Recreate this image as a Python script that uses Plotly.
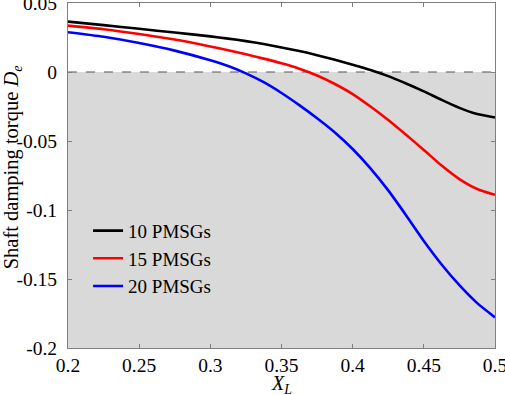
import plotly.graph_objects as go

x_vals = [0.2, 0.225, 0.25, 0.275, 0.3, 0.3125, 0.325, 0.3375, 0.35, 0.3625, 0.375, 0.3875,
          0.4, 0.4125, 0.425, 0.4375, 0.45, 0.4625, 0.475, 0.4875, 0.5]
pmsg10 = [0.0365, 0.0340, 0.0313, 0.0286, 0.0258, 0.0242, 0.0224, 0.0203, 0.0178, 0.0152, 0.0122, 0.0089,
          0.0053, 0.0015, -0.0030, -0.0083, -0.0140, -0.0202, -0.0260, -0.0305, -0.0330]
pmsg15 = [0.0336, 0.0310, 0.0275, 0.0235, 0.0185, 0.0158, 0.0128, 0.0097, 0.0063, 0.0024, -0.0025, -0.0087,
          -0.0160, -0.0250, -0.0348, -0.0455, -0.0565, -0.0678, -0.0776, -0.0848, -0.0890]
pmsg20 = [0.0288, 0.0255, 0.0210, 0.0155, 0.0085, 0.0043, -0.0010, -0.0074, -0.0152, -0.0240, -0.0335, -0.0438,
          -0.0558, -0.0698, -0.0858, -0.1038, -0.1225, -0.1395, -0.1545, -0.1675, -0.1778]
series_names = ["10 PMSGs", "15 PMSGs", "20 PMSGs"]
series_colors = ["#000000", "#ff0000", "#0000ff"]
x_ticks = [0.2, 0.25, 0.3, 0.35, 0.4, 0.45, 0.5]
y_ticks = [0.05, 0, -0.05, -0.1, -0.15, -0.2]

FONT = "Liberation Serif"

fig = go.Figure()
for name, ys, c in zip(series_names, [pmsg10, pmsg15, pmsg20], series_colors):
    fig.add_trace(go.Scatter(x=x_vals, y=ys, mode="lines", name=name,
                             line=dict(color=c, width=2.6, shape="spline", smoothing=0.6)))

fig.add_shape(type="rect", xref="paper", x0=0, x1=1, yref="y", y0=-0.2, y1=0,
              fillcolor="#d9d9d9", line=dict(width=0), layer="below")
fig.add_shape(type="line", xref="paper", x0=0, x1=1, yref="y", y0=0, y1=0,
              line=dict(color="#555555", width=1, dash="dash"), layer="below")

axis_common = dict(showline=True, linecolor="#7f7f7f", linewidth=1, mirror="ticks",
                   ticks="inside", ticklen=4, tickcolor="#7f7f7f", showgrid=False,
                   zeroline=False, automargin=False, ticklabeloverflow="allow",
                   tickfont=dict(family=FONT, size=19.5, color="#000"))

fig.update_xaxes(range=[0.2, 0.50001], tickvals=x_ticks, ticktext=[f"{v:g}" for v in x_ticks],
                 ticklabelstandoff=0, **axis_common)
fig.update_yaxes(range=[-0.2, 0.05001], tickvals=y_ticks, ticktext=[f"{v:g}" for v in y_ticks],
                 ticklabelstandoff=6, **axis_common)

fig.add_annotation(text="Shaft damping torque <i>D<sub>e</sub></i>", textangle=-90,
                   xref="paper", yref="paper", x=-0.13, y=0.525, xanchor="center", yanchor="middle",
                   showarrow=False, font=dict(family=FONT, size=20.5, color="#000"))
fig.add_annotation(text="<i>X<sub>L</sub></i>", xref="paper", yref="paper", x=0.5, y=-0.063,
                   xanchor="center", yanchor="top", showarrow=False,
                   font=dict(family=FONT, size=20, color="#000"))

fig.update_layout(width=505, height=395, margin=dict(l=68, r=10, t=3, b=47),
                  paper_bgcolor="white", plot_bgcolor="white",
                  legend=dict(x=0.047, y=0.395, xanchor="left", yanchor="top",
                              bgcolor="rgba(0,0,0,0)", font=dict(family=FONT, size=19, color="#000"),
                              tracegroupgap=0, itemwidth=30),
                  showlegend=True)

fig.write_html("out.html", config={"displayModeBar": False},
               post_script="document.body.style.margin='0';document.body.style.padding='0';document.body.style.overflow='hidden';")
